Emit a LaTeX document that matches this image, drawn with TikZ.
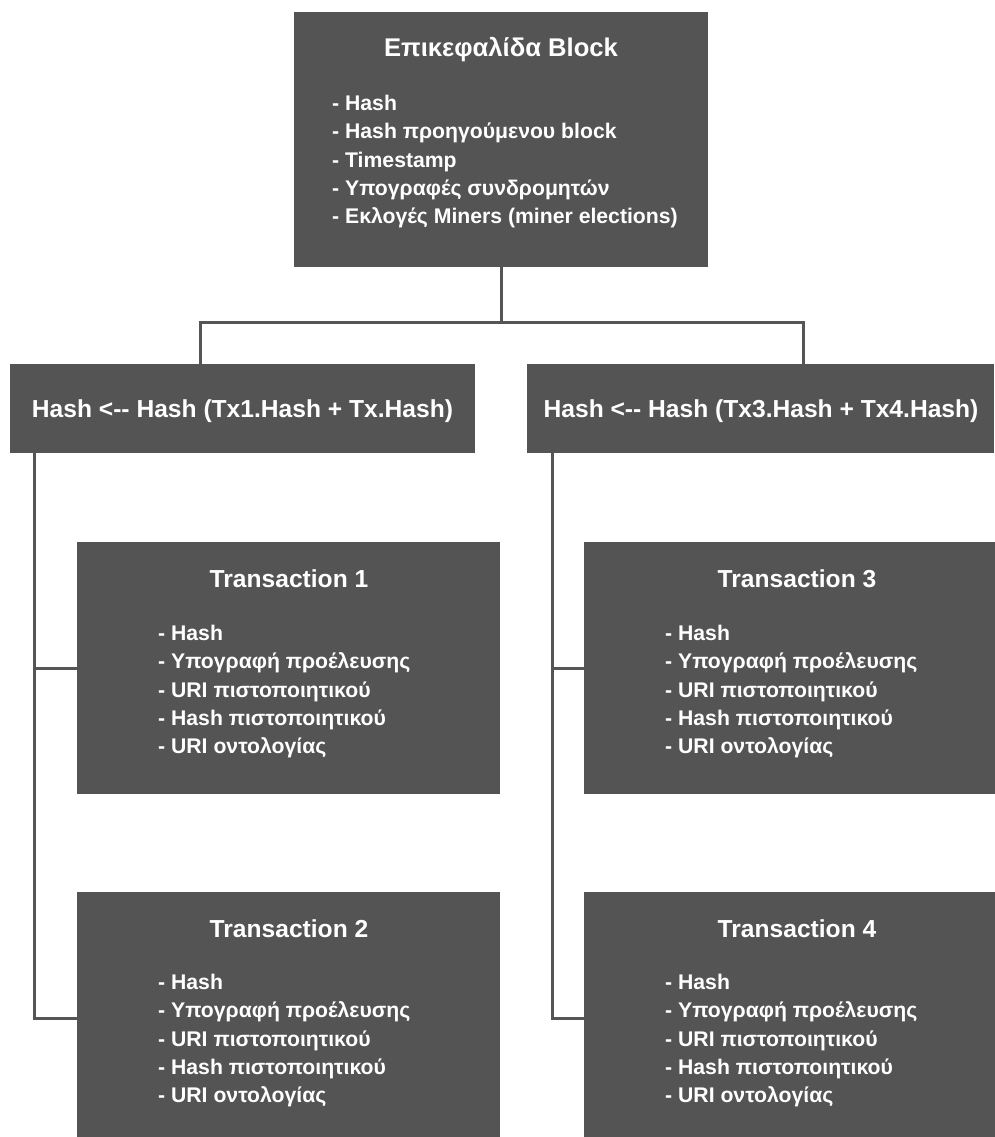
\documentclass[tikz,border=0pt]{standalone}
\usepackage{fontspec}
\setmainfont{Liberation Sans}
\usetikzlibrary{calc}
\definecolor{boxgray}{RGB}{84,84,84}
\definecolor{wiregray}{RGB}{85,85,85}
\tikzset{
  box/.style={rectangle, fill=boxgray, draw=none, inner sep=0pt},
  ttl/.style={text=white, inner sep=0pt, anchor=base,
    font=\bfseries\fontsize{24.6}{29}\selectfont},
  lst/.style={text=white, inner sep=0pt, anchor=north west, align=left,
    font=\bfseries\fontsize{21.2}{28.3}\selectfont},
  wire/.style={draw=wiregray, line width=3pt, line cap=rect}
}
\begin{document}
\begin{tikzpicture}[x=1pt,y=-1pt]
\useasboundingbox (0,0) rectangle (995,1137);

% block header
\node[box, minimum width=414pt, minimum height=255pt] (top) at (501,139.5) {};
\node[ttl] (topt) at (501,57) {\fontsize{25.6}{29}\selectfont Επικεφαλίδα Block};
\node[lst] (topl) at (332,95) {- Hash\\- Hash προηγούμενου block\\- Timestamp\\- Υπογραφές συνδρομητών\\- Εκλογές Miners (miner elections)};

% intermediate hash nodes
\node[box, minimum width=465pt, minimum height=89pt] (hashL) at (242.5,408.5) {};
\node[ttl] (hashLt) at (242.5,417) {Hash <-{}- Hash (Tx1.Hash + Tx.Hash)};
\node[box, minimum width=467pt, minimum height=89pt] (hashR) at (760.5,408.5) {};
\node[ttl] (hashRt) at (761,417) {Hash <-{}- Hash (Tx3.Hash + Tx4.Hash)};

% transactions
\node[box, minimum width=423pt, minimum height=252pt] (tx1) at (288.5,668) {};
\node[ttl] (tx1t) at (289,587) {Transaction 1};
\node[lst] (tx1l) at (158,625) {- Hash\\- Υπογραφή προέλευσης\\- URI πιστοποιητικού\\- Hash πιστοποιητικού\\- URI οντολογίας};

\node[box, minimum width=423pt, minimum height=252pt] (tx2) at (288.5,1018) {};
\node[ttl] (tx2t) at (289,937) {Transaction 2};
\node[lst] (tx2l) at (158,974) {- Hash\\- Υπογραφή προέλευσης\\- URI πιστοποιητικού\\- Hash πιστοποιητικού\\- URI οντολογίας};

\node[box, minimum width=423pt, minimum height=252pt] (tx3) at (795.5,668) {};
\node[ttl] (tx3t) at (797,587) {Transaction 3};
\node[lst] (tx3l) at (665,625) {- Hash\\- Υπογραφή προέλευσης\\- URI πιστοποιητικού\\- Hash πιστοποιητικού\\- URI οντολογίας};

\node[box, minimum width=423pt, minimum height=252pt] (tx4) at (795.5,1018) {};
\node[ttl] (tx4t) at (797,937) {Transaction 4};
\node[lst] (tx4l) at (665,974) {- Hash\\- Υπογραφή προέλευσης\\- URI πιστοποιητικού\\- Hash πιστοποιητικού\\- URI οντολογίας};

% connectors
\coordinate (jL) at (200,322);
\coordinate (jR) at (803,322);
\coordinate (sL) at (34,0);
\coordinate (sR) at (552,0);
\draw[wire] (top.south) -- (top.south |- jL);
\draw[wire] (jL) -- (jR);
\draw[wire] (jL) -- (jL |- hashL.north);
\draw[wire] (jR) -- (jR |- hashR.north);
\draw[wire] (sL |- hashL.south) |- (tx2.west);
\draw[wire] (sL |- tx1.west) -- (tx1.west);
\draw[wire] (sR |- hashR.south) |- (tx4.west);
\draw[wire] (sR |- tx3.west) -- (tx3.west);
\end{tikzpicture}
\end{document}
